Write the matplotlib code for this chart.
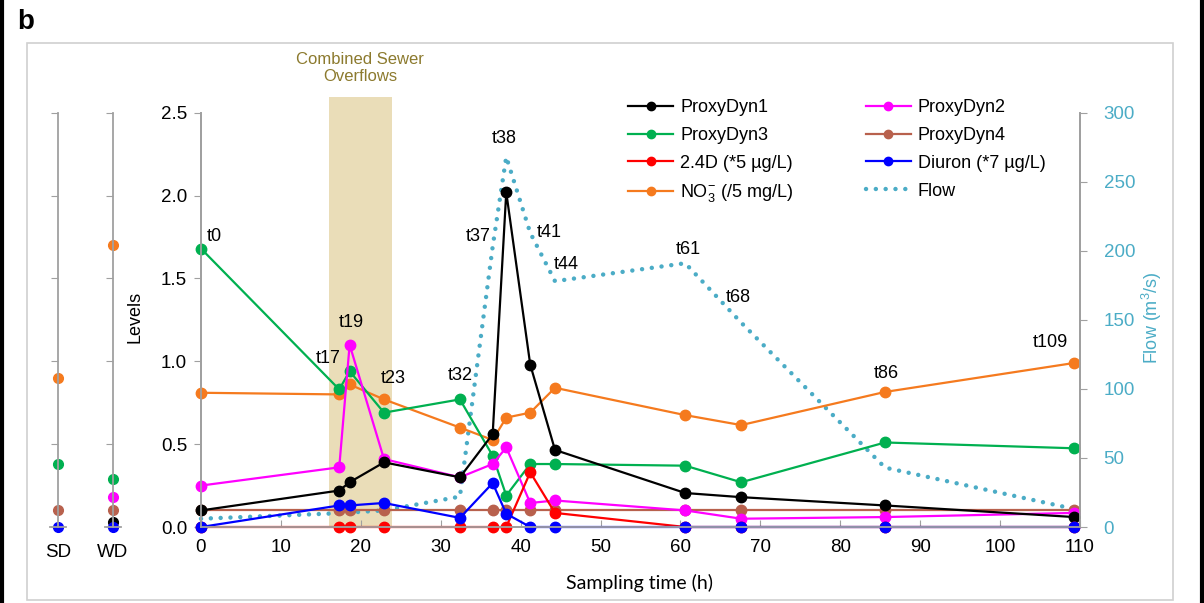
import matplotlib
matplotlib.use("Agg")
import matplotlib.pyplot as plt
from matplotlib.patches import Rectangle
from matplotlib.lines import Line2D
import matplotlib.transforms as mtransforms
import numpy as np

plt.rcParams['font.family'] = ['Liberation Sans', 'DejaVu Sans']
plt.rcParams['mathtext.fontset'] = 'custom'
plt.rcParams['mathtext.rm'] = 'Liberation Sans'
plt.rcParams['mathtext.it'] = 'Liberation Sans:italic'

# sampling times (h) and their tags
time_h = [0, 17.3, 18.6, 22.9, 32.4, 36.5, 38.2, 41.2, 44.3, 60.6, 67.6, 85.6, 109.3]
tags = ['t0', 't17', 't19', 't23', 't32', 't37', 't38', 't41', 't44', 't61', 't68', 't86', 't109']

proxy1 = [0.10, 0.22, 0.27, 0.39, 0.30, 0.56, 2.02, 0.98, 0.465, 0.205, 0.18, 0.13, 0.06]
proxy2 = [0.25, 0.36, 1.10, 0.41, 0.30, 0.38, 0.48, 0.145, 0.16, 0.10, 0.05, 0.06, 0.085]
proxy3 = [1.68, 0.83, 0.94, 0.69, 0.77, 0.43, 0.19, 0.38, 0.38, 0.37, 0.27, 0.51, 0.475]
proxy4 = [0.10, 0.10, 0.10, 0.10, 0.10, 0.10, 0.10, 0.10, 0.10, 0.10, 0.10, 0.10, 0.10]
d24 = [0, 0, 0, 0, 0, 0, 0, 0.33, 0.085, 0, 0, 0, 0]
diuron = [0, 0.13, 0.13, 0.145, 0.055, 0.265, 0.08, 0, 0, 0, 0, 0, 0]
no3 = [0.81, 0.80, 0.86, 0.77, 0.60, 0.525, 0.66, 0.69, 0.84, 0.675, 0.615, 0.815, 0.99]
flow = [6, 10, 10.5, 12, 22, 203, 268, 213, 178, 191, 148, 43, 13]

# reference sites: dry (SD) and wet (WD) conditions, nan = not shown
sites = ['SD', 'WD']
site_proxy1 = [np.nan, 0.03]
site_proxy2 = [np.nan, 0.18]
site_proxy3 = [0.38, 0.29]
site_proxy4 = [0.10, 0.10]
site_diuron = [0, 0]
site_no3 = [0.90, 1.70]

cso_window = (16.0, 23.9)

# tag label anchors: (series, offset px right, offset px up)
tag_anchor = [('p3', 13, 12), ('p3', -11, 31), ('p2', 2, 22), ('no3', 9, 21),
              ('p3', 0, 24), ('flow', -14, 10), ('flow', -2, 18), ('flow', 19, 0),
              ('flow', 11, 17), ('flow', 3, 14), ('flow', -3, 25), ('no3', 1, 18),
              ('no3', -24, 20)]

C_BLACK = '#000000'
C_MAG = '#FF00FF'
C_GREEN = '#00B050'
C_BROWN = '#B8614D'
C_RED = '#FF0000'
C_BLUE = '#0000FF'
C_ORANGE = '#F57A1E'
C_FLOW = '#4BACC6'
C_AXIS = '#A0A0A0'
C_CSO = '#EADDB8'

W, H = 1204, 603


def fx(px):
    return px / W


def fy(py):
    return 1 - py / H


fig = plt.figure(figsize=(W / 100, H / 100), dpi=100)

# outer black panel edges and the light grey chart frame
fig.add_artist(Line2D([fx(2), fx(2)], [0, 1], color='black', lw=3))
fig.add_artist(Line2D([fx(1202), fx(1202)], [0, 1], color='black', lw=3))
fig.add_artist(Rectangle((fx(27), fy(600)), fx(1173) - fx(27), fy(43) - fy(600),
                         fill=False, ec='#D0D0D0', lw=1.2))
fig.text(fx(26), fy(22), 'b', fontsize=20, fontweight='bold', ha='center', va='center')

ax = fig.add_axes([fx(201), fy(527), fx(1080) - fx(201), fy(112.7) - fy(527)])
ax2 = ax.twinx()
ax.set_zorder(ax2.get_zorder() + 1)
ax.patch.set_visible(False)

ax.set_xlim(0, 110)
ax.set_ylim(0, 2.5)
ax2.set_ylim(0, 300)

# combined sewer overflow period
trans = mtransforms.blended_transform_factory(ax2.transData, ax2.transAxes)
ax2.add_patch(Rectangle((cso_window[0], 0), cso_window[1] - cso_window[0], 1.038,
                        transform=trans, color=C_CSO, lw=0, clip_on=False, zorder=0))
fig.text(fx(360), fy(68), 'Combined Sewer\nOverflows', ha='center', va='center',
         fontsize=12, color='#8C7A2E', linespacing=1.15)

flow_line, = ax2.plot(time_h, flow, color=C_FLOW, lw=3.2, linestyle=(0, (0.01, 2.2)),
                      dash_capstyle='round', zorder=2, clip_on=False)

mk = dict(marker='o', markersize=7.5, lw=1.6, clip_on=False)
series = [
    ('p4', proxy4, C_BROWN, 'ProxyDyn4'),
    ('no3', no3, C_ORANGE, 'NO$_3^{-}$ (/5 mg/L)'),
    ('p3', proxy3, C_GREEN, 'ProxyDyn3'),
    ('p2', proxy2, C_MAG, 'ProxyDyn2'),
    ('p1', proxy1, C_BLACK, 'ProxyDyn1'),
    ('d24', d24, C_RED, '2.4D (*5 µg/L)'),
    ('diu', diuron, C_BLUE, 'Diuron (*7 µg/L)'),
]
handles = {}
values = {'flow': flow}
for key, vals, col, lab in series:
    h, = ax.plot(time_h, vals, color=col, label=lab, **mk)
    handles[key] = h
    values[key] = vals
handles['flow'] = flow_line

# sampling tags
for i, (key, dx, dy) in enumerate(tag_anchor):
    target = ax2 if key == 'flow' else ax
    target.annotate(tags[i], (time_h[i], values[key][i]), xytext=(dx, dy),
                    textcoords='offset pixels', ha='center', va='center',
                    fontsize=13, zorder=10)

for side in ['top']:
    ax.spines[side].set_visible(False)
    ax2.spines[side].set_visible(False)
for a in (ax, ax2):
    for s in a.spines.values():
        s.set_color(C_AXIS)
        s.set_linewidth(1.3)

ax.set_xticks(np.arange(0, 111, 10))
ax.set_yticks(np.arange(0, 2.51, 0.5))
ax.set_yticklabels([f'{v:.1f}' for v in np.arange(0, 2.51, 0.5)])
ax.tick_params(axis='x', direction='in', length=5, color=C_AXIS, labelsize=13.5, pad=9)
ax.tick_params(axis='y', direction='out', length=5, color=C_AXIS, labelsize=13.5, pad=5)
ax2.set_yticks(np.arange(0, 301, 50))
ax2.tick_params(axis='y', direction='out', length=5, color=C_AXIS, labelsize=13.5,
                labelcolor=C_FLOW, pad=12)

fig.text(fx(135), fy(317), 'Levels', rotation=90, ha='center', va='center', fontsize=13)
fig.text(fx(1152), fy(318), 'Flow (m$^3$/s)', rotation=90, ha='center', va='center',
         fontsize=13, color=C_FLOW)
fig.text(fx(640), fy(583), 'Sampling time (h)', ha='center', va='center', fontsize=14,
         family=['Lato', 'DejaVu Sans'])

order = ['p1', 'p3', 'd24', 'no3', 'p2', 'p4', 'diu', 'flow']
labels = ['ProxyDyn1', 'ProxyDyn3', '2.4D (*5 µg/L)', 'NO$_3^{-}$ (/5 mg/L)',
          'ProxyDyn2', 'ProxyDyn4', 'Diuron (*7 µg/L)', 'Flow']
leg_handles = []
for k in order:
    h = handles[k]
    if k == 'flow':
        leg_handles.append(Line2D([], [], color=C_FLOW, lw=3.2, linestyle=(0, (0.01, 2.2)),
                                  dash_capstyle='round'))
    else:
        leg_handles.append(Line2D([], [], color=h.get_color(), lw=1.6, marker='o',
                                  markersize=6))
leg = fig.legend(leg_handles, labels, ncol=2, loc='upper left',
                 bbox_to_anchor=(fx(628), fy(99)), frameon=False, fontsize=13,
                 handlelength=2.5, handletextpad=0.4, columnspacing=4.0,
                 labelspacing=0.6, borderaxespad=0, borderpad=0)

# SD / WD reference columns
site_x = [58, 113]
site_series = [(site_proxy4, C_BROWN), (site_no3, C_ORANGE), (site_proxy3, C_GREEN),
               (site_proxy2, C_MAG), (site_proxy1, C_BLACK), (site_diuron, C_BLUE)]
for j, name in enumerate(sites):
    sa = fig.add_axes([fx(site_x[j] - 8), fy(527), fx(16), fy(112.7) - fy(527)])
    sa.set_xlim(-1, 1)
    sa.set_ylim(0, 2.5)
    sa.patch.set_visible(False)
    for s in ['top', 'right']:
        sa.spines[s].set_visible(False)
    sa.spines['left'].set_position(('data', 0))
    for s in ['left', 'bottom']:
        sa.spines[s].set_color(C_AXIS)
        sa.spines[s].set_linewidth(1.3)
    sa.set_yticks(np.arange(0, 2.51, 0.5))
    sa.tick_params(axis='y', direction='out', length=5, color=C_AXIS, labelleft=False)
    sa.set_xticks([0])
    sa.set_xticklabels([name])
    sa.tick_params(axis='x', length=0, labelsize=13.5, pad=12)
    for vals, col in site_series:
        sa.plot([0], [vals[j]], 'o', color=col, markersize=7, clip_on=False)

fig.savefig('out.png', dpi=100)
